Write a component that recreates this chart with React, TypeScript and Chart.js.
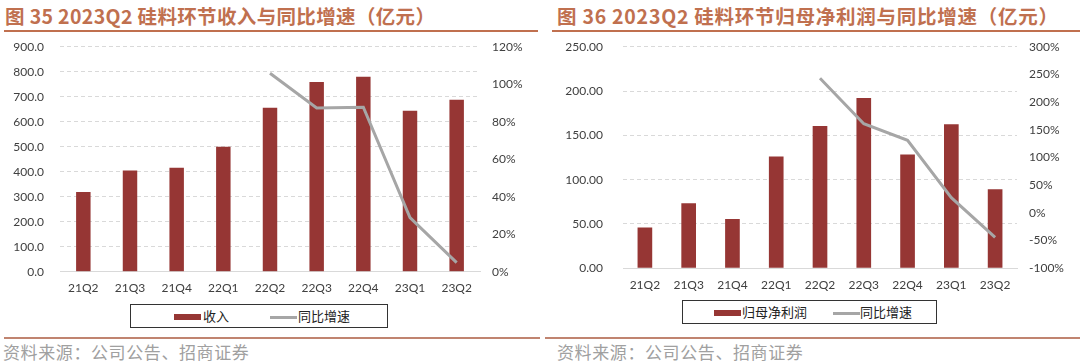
import React, { useEffect, useRef } from "react";
import { Chart, registerables } from "chart.js";

Chart.register(...registerables);

// ---- data ----
const categories = ["21Q2", "21Q3", "21Q4", "22Q1", "22Q2", "22Q3", "22Q4", "23Q1", "23Q2"];
const revenue = [319, 405, 416, 500, 656, 759, 780, 644, 688];
const revenueYoY = [null, null, null, null, 105.8, 87.3, 87.7, 28.8, 4.8];
const netProfit = [46.1, 73.3, 55.5, 126.1, 160.5, 192.2, 128.4, 162.4, 89.1];
const netProfitYoY = [null, null, null, null, 242.9, 161, 131, 27.5, -44];

const leftTitle = "图 35 2023Q2 硅料环节收入与同比增速（亿元）";
const rightTitle = "图 36 2023Q2 硅料环节归母净利润与同比增速（亿元）";
const source = "资料来源：公司公告、招商证券";

const BAR = "#963634";
const LINE = "#A6A6A6";
const TITLE = "#C0704F";
const TICK_FONT = { family: "Lato, 'Open Sans', sans-serif", size: 12 };
const TICK_COLOR = "#404040";

type Cfg = {
  bars: number[];
  line: (number | null)[];
  barLabel: string;
  yMax: number;
  yStep: number;
  yDec: number;
  y1Min: number;
  y1Max: number;
  y1Step: number;
  leftW: number;
  leftPad: number;
  rightW: number;
  xH: number;
  catPct: number;
  width: number;
  height: number;
  topPad: number;
};

function ComboChart({ cfg }: { cfg: Cfg }) {
  const ref = useRef<HTMLCanvasElement | null>(null);
  useEffect(() => {
    if (!ref.current) return;
    const chart = new Chart(ref.current, {
      type: "bar",
      data: {
        labels: categories,
        datasets: [
          {
            type: "line",
            label: "同比增速",
            data: cfg.line as any,
            yAxisID: "y1",
            borderColor: LINE,
            backgroundColor: LINE,
            borderWidth: 3,
            pointRadius: 0,
            tension: 0,
            spanGaps: false,
            order: 0,
          } as any,
          {
            type: "bar",
            label: cfg.barLabel,
            data: cfg.bars,
            yAxisID: "y",
            backgroundColor: BAR,
            barPercentage: 1,
            categoryPercentage: cfg.catPct,
            order: 1,
          },
        ],
      },
      options: {
        responsive: false,
        animation: false,
        layout: { padding: { top: cfg.topPad, bottom: 0, left: 0, right: 0 } },
        plugins: { legend: { display: false }, tooltip: { enabled: false } },
        scales: {
          x: {
            grid: { display: false, drawTicks: false },
            border: { display: true, color: "#D9D9D9", width: 1 },
            ticks: { font: TICK_FONT, color: TICK_COLOR, padding: 9.3, maxRotation: 0, autoSkip: false },
            afterFit: (s: any) => {
              s.height = cfg.xH;
            },
          },
          y: {
            position: "left",
            min: 0,
            max: cfg.yMax,
            ticks: {
              stepSize: cfg.yStep,
              font: TICK_FONT,
              color: TICK_COLOR,
              padding: 0,
              callback: (v: any) => Number(v).toFixed(cfg.yDec),
            },
            grid: {
              color: "#D9D9D9",
              drawTicks: true,
              tickLength: cfg.leftPad,
              tickColor: "rgba(0,0,0,0)",
              lineWidth: 1,
            },
            border: { display: false, dash: [4, 3] },
            afterFit: (s: any) => {
              s.width = cfg.leftW;
            },
          },
          y1: {
            position: "right",
            min: cfg.y1Min,
            max: cfg.y1Max,
            ticks: {
              stepSize: cfg.y1Step,
              font: TICK_FONT,
              color: TICK_COLOR,
              padding: 0,
              callback: (v: any) => `${Math.round(Number(v))}%`,
            },
            grid: {
              display: true,
              drawOnChartArea: false,
              drawTicks: true,
              tickLength: 12,
              tickColor: "rgba(0,0,0,0)",
            },
            border: { display: false },
            afterFit: (s: any) => {
              s.width = cfg.rightW;
            },
          },
        },
      } as any,
    });
    return () => chart.destroy();
  }, [cfg]);
  return <canvas ref={ref} width={cfg.width} height={cfg.height} style={{ display: "block", width: cfg.width, height: cfg.height }} />;
}

const leftCfg: Cfg = {
  bars: revenue,
  line: revenueYoY,
  barLabel: "收入",
  yMax: 900,
  yStep: 100,
  yDec: 1,
  y1Min: 0,
  y1Max: 120,
  y1Step: 20,
  leftW: 60,
  leftPad: 16,
  rightW: 60,
  xH: 28.3,
  catPct: 0.31,
  width: 540,
  height: 264,
  topPad: 10.7,
};

const rightCfg: Cfg = {
  bars: netProfit,
  line: netProfitYoY,
  barLabel: "归母净利润",
  yMax: 250,
  yStep: 50,
  yDec: 2,
  y1Min: -100,
  y1Max: 300,
  y1Step: 50,
  leftW: 83,
  leftPad: 20,
  rightW: 63,
  xH: 31.7,
  catPct: 0.335,
  width: 540,
  height: 264,
  topPad: 10.7,
};

const cjk = "'Noto Sans CJK SC', 'Noto Sans', sans-serif";

function Legend({ left, top, width, barLabel, swatchX, textX, lineX, lineTextX }: any) {
  return (
    <div
      style={{
        position: "absolute",
        left,
        top,
        width,
        height: 24,
        border: "1px solid #333",
        boxSizing: "border-box",
        fontFamily: cjk,
        fontSize: 13,
        color: "#222",
      }}
    >
      <div style={{ position: "absolute", left: swatchX, top: 8.5, width: 27, height: 6.5, background: BAR }} />
      <div style={{ position: "absolute", left: textX, top: 2, lineHeight: "18px" }}>{barLabel}</div>
      <div style={{ position: "absolute", left: lineX, top: 10.5, width: 27, height: 3, background: LINE }} />
      <div style={{ position: "absolute", left: lineTextX, top: 2, lineHeight: "18px" }}>同比增速</div>
    </div>
  );
}

export default function App() {
  const titleStyle: React.CSSProperties = {
    position: "absolute",
    top: 3,
    fontFamily: cjk,
    fontWeight: 700,
    fontSize: 19.5,
    lineHeight: "26px",
    color: TITLE,
    whiteSpace: "nowrap",
  };
  const footStyle: React.CSSProperties = {
    position: "absolute",
    top: 341,
    fontFamily: cjk,
    fontSize: 17,
    lineHeight: "22px",
    color: "#A0A0A0",
    letterSpacing: 0.6,
    whiteSpace: "nowrap",
  };
  return (
    <div style={{ position: "absolute", left: 0, top: 0, width: 1080, height: 364, background: "#fff", overflow: "hidden" }}>
      <div style={{ ...titleStyle, left: 5, letterSpacing: 0.35 }}>{leftTitle}</div>
      <div style={{ ...titleStyle, left: 557, letterSpacing: 0.75 }}>{rightTitle}</div>
      <div style={{ position: "absolute", left: 4, top: 30, width: 534, height: 2, background: TITLE }} />
      <div style={{ position: "absolute", left: 552, top: 30, width: 528, height: 2, background: TITLE }} />

      <div style={{ position: "absolute", left: 0, top: 36 }}>
        <ComboChart cfg={leftCfg} />
      </div>
      <div style={{ position: "absolute", left: 540, top: 36 }}>
        <ComboChart cfg={rightCfg} />
      </div>

      <Legend left={130} top={304} width={258} barLabel="收入" swatchX={43} textX={72} lineX={139} lineTextX={167} />
      <Legend left={682} top={300} width={255} barLabel="归母净利润" swatchX={31} textX={59} lineX={150} lineTextX={177} />

      <div style={{ position: "absolute", left: 4, top: 337, width: 536, height: 2, background: "#C08470" }} />
      <div style={{ position: "absolute", left: 545, top: 337, width: 535, height: 2, background: "#C08470" }} />
      <div style={{ ...footStyle, left: 3 }}>{source}</div>
      <div style={{ ...footStyle, left: 557 }}>{source}</div>
    </div>
  );
}
